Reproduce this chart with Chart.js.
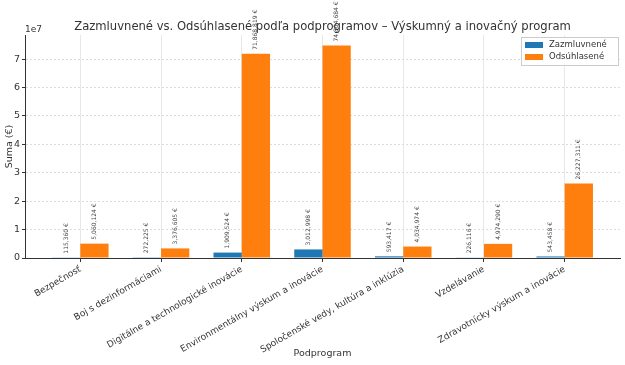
<!DOCTYPE html>
<html>
<head>
<meta charset="utf-8">
<script src="https://cdn.jsdelivr.net/npm/chart.js@4.4.1/dist/chart.umd.min.js"></script>
<style>
  html, body { margin: 0; padding: 0; background: #fff; }
  #wrap { width: 625px; height: 365px; }
</style>
</head>
<body>
<div id="wrap"><canvas id="c" width="625" height="365"></canvas></div>
<script>
var categories = ["Bezpečnosť", "Boj s dezinformáciami", "Digitálne a technologické inovácie",
    "Environmentálny výskum a inovácie", "Spoločenské vedy, kultúra a inklúzia",
    "Vzdelávanie", "Zdravotnícky výskum a inovácie"];
var zazmluvnene = [115360, 272225, 1909524, 3012998, 593417, 226116, 543458];
var odsuhlasene = [5060124, 3376605, 71868819, 74804684, 4034974, 4974290, 26227311];
var yTicks = [0, 1e7, 2e7, 3e7, 4e7, 5e7, 6e7, 7e7];

var FONT = "'DejaVu Sans', sans-serif";

function fmt(v) {
    return v.toString().replace(/\B(?=(\d{3})+(?!\d))/g, ",") + " €";
}

// labels above bars, the title, the 1e7 offset text and the legend box
var extras = {
    id: 'extras',
    afterDatasetsDraw: function (chart) {
        var ctx = chart.ctx;
        ctx.save();
        ctx.font = "6px " + FONT;
        ctx.fillStyle = "#444";
        ctx.textAlign = "left";
        ctx.textBaseline = "middle";
        chart.data.datasets.forEach(function (ds, di) {
            chart.getDatasetMeta(di).data.forEach(function (bar, i) {
                ctx.save();
                ctx.translate(bar.x, bar.y - 4);
                ctx.rotate(-Math.PI / 2);
                ctx.fillText(fmt(ds.data[i].y), 0, 0);
                ctx.restore();
            });
        });
        ctx.restore();
    },
    afterDraw: function (chart) {
        var ctx = chart.ctx, area = chart.chartArea;
        ctx.save();
        ctx.fillStyle = "#333";
        ctx.font = "11.6px " + FONT;
        ctx.textAlign = "center";
        ctx.textBaseline = "middle";
        ctx.fillText("Zazmluvnené vs. Odsúhlasené podľa podprogramov – Výskumný a inovačný program",
            (area.left + area.right) / 2, 27);

        ctx.font = "9px " + FONT;
        ctx.textAlign = "left";
        ctx.fillText("1e7", area.left, 30);

        // legend
        var lx = 521, ly = 37, lw = 97, lh = 28;
        ctx.fillStyle = "rgba(255,255,255,0.85)";
        ctx.strokeStyle = "#ccc";
        ctx.lineWidth = 1;
        ctx.fillRect(lx, ly, lw, lh);
        ctx.strokeRect(lx + 0.5, ly + 0.5, lw, lh);
        chart.data.datasets.forEach(function (ds, i) {
            var yy = ly + 8 + i * 12;
            ctx.fillStyle = ds.backgroundColor;
            ctx.fillRect(lx + 4, yy - 3, 18, 6);
            ctx.fillStyle = "#333";
            ctx.font = "8.5px " + FONT;
            ctx.fillText(ds.label, lx + 28, yy);
        });
        ctx.restore();
    }
};

var chart = new Chart(document.getElementById('c').getContext('2d'), {
    type: 'bar',
    data: {
        datasets: [
            {
                label: "Zazmluvnené",
                backgroundColor: "#1f77b4",
                data: zazmluvnene.map(function (v, i) { return { x: i, y: v }; })
            },
            {
                label: "Odsúhlasené",
                backgroundColor: "#ff7f0e",
                data: odsuhlasene.map(function (v, i) { return { x: i, y: v }; })
            }
        ]
    },
    options: {
        responsive: false,
        animation: false,
        layout: { padding: { left: 0, right: 5, top: 35, bottom: 6 } },
        datasets: { bar: { categoryPercentage: 0.7, barPercentage: 1.0 } },
        plugins: {
            legend: { display: false },
            tooltip: { enabled: false },
            title: { display: false }
        },
        scales: {
            x: {
                type: 'linear',
                offset: false,
                min: -0.685,
                max: 6.685,
                afterFit: function (scale) { scale.height = 101; },
                afterBuildTicks: function (scale) {
                    scale.ticks = categories.map(function (c, i) { return { value: i }; });
                },
                ticks: {
                    autoSkip: false,
                    minRotation: 30,
                    maxRotation: 30,
                    padding: 2,
                    color: "#333",
                    font: { family: FONT, size: 9 },
                    callback: function (v) { return categories[v]; }
                },
                grid: { offset: false, color: "#e8e8e8", tickLength: 4, tickColor: "#333" },
                border: { color: "#333" },
                title: { display: true, text: "Podprogram", color: "#333", font: { family: FONT, size: 9.5 }, padding: 0 }
            },
            y: {
                min: 0,
                max: 78.5e6,
                afterFit: function (scale) { scale.width = 25; },
                afterBuildTicks: function (scale) {
                    scale.ticks = yTicks.map(function (v) { return { value: v }; });
                },
                ticks: {
                    color: "#333",
                    padding: 2,
                    font: { family: FONT, size: 9.5 },
                    callback: function (v) { return String(v / 1e7); }
                },
                grid: { color: "#dcdcdc", tickLength: 3, tickColor: "#333" },
                border: { color: "#333", dash: [2, 2] },
                title: { display: true, text: "Suma (€)", color: "#333", font: { family: FONT, size: 9.5 }, padding: { top: 4, bottom: 0 } }
            }
        }
    },
    plugins: [extras]
});
</script>
</body>
</html>
